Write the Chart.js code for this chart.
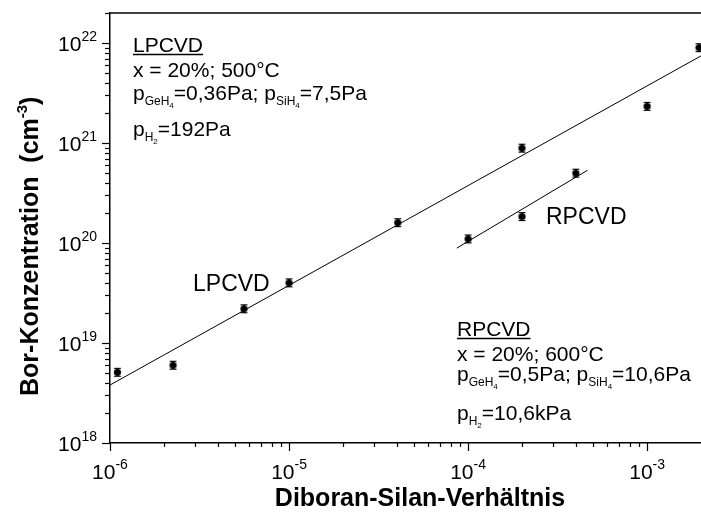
<!DOCTYPE html>
<html><head><meta charset="utf-8">
<script src="https://cdn.jsdelivr.net/npm/chart.js@4.4.1/dist/chart.umd.min.js"></script>
<style>html,body{margin:0;padding:0;background:#fff;overflow:hidden}#wrap{width:701px;height:524px;overflow:hidden}canvas{display:block}</style>
</head><body><div id="wrap"><canvas id="c" width="701" height="524"></canvas></div>
<script>
// ---- data ----
const lpX = [1.1e-6, 2.25e-6, 5.6e-6, 1.0e-5, 4.05e-5, 2.0e-4, 1.0e-3, 1.95e-3];
const lpY = [5.1e18, 6.0e18, 2.2e19, 4.0e19, 1.6e20, 8.9e20, 2.33e21, 9.0e21];
const rpX = [1.0e-4, 2.0e-4, 4.0e-4];
const rpY = [1.1e20, 1.84e20, 5.0e20];
const lpFitX = [1e-6, 2e-3];
const lpFitY = [3.8e18, 7.45e21];
const rpFitX = [8.65e-5, 4.65e-4];
const rpFitY = [8.9e19, 5.35e20];
const xDecades = [-6, -5, -4, -3];
const yDecades = [18, 19, 20, 21, 22];
const xTitle = 'Diboran-Silan-Verhältnis';
const yTitle = 'Bor-Konzentration  (cm';
const yTitleSup = '-3';

const FF = '"Liberation Sans", Arial, sans-serif';
const pts = (xs, ys) => xs.map((x, i) => ({x: x, y: ys[i]}));

// marker: filled dot with small error-bar caps
const mk = document.createElement('canvas');
mk.width = 11; mk.height = 11;
(function(){const g = mk.getContext('2d');
  g.fillStyle = '#000'; g.strokeStyle = '#000'; g.lineWidth = 1.2;
  g.beginPath(); g.arc(5.5, 5.5, 3.6, 0, Math.PI*2); g.fill();
  g.beginPath(); g.moveTo(2, 1.5); g.lineTo(9, 1.5); g.moveTo(2, 9.5); g.lineTo(9, 9.5);
  g.moveTo(5.5, 1.5); g.lineTo(5.5, 9.5); g.stroke();})();

function sub(ctx, parts, x, y) {
  let cx = x;
  for (const [t, s, dy] of parts) {
    ctx.font = s + 'px ' + FF;
    ctx.fillText(t, cx, y + dy);
    cx += ctx.measureText(t).width;
  }
  return cx;
}

const deco = {
  id: 'deco',
  afterDraw(chart) {
    const ctx = chart.ctx, a = chart.chartArea;
    const xs = chart.scales.x, ys = chart.scales.y;
    ctx.save();
    ctx.beginPath();
    ctx.strokeStyle = '#000'; ctx.fillStyle = '#000';
    ctx.lineWidth = 1.5;
    ctx.beginPath(); ctx.moveTo(a.left, a.top); ctx.lineTo(a.right, a.top); ctx.stroke();
    ctx.lineWidth = 1.2;
    for (let d = 18; d <= 22; d++) for (let m = 1; m <= 9; m++) {
      const v = m * Math.pow(10, d);
      if (v > ys.max * 1.0001) continue;
      const py = Math.round(ys.getPixelForValue(v)) + 0.5;
      const L = m === 1 ? 8 : 5;
      ctx.beginPath(); ctx.moveTo(a.left - L, py); ctx.lineTo(a.left, py); ctx.stroke();
    }
    for (let d = -6; d <= -3; d++) for (let m = 1; m <= 9; m++) {
      const v = m * Math.pow(10, d);
      if (v > xs.max * 0.999) continue;
      const px = Math.round(xs.getPixelForValue(v)) + 0.5;
      const L = m === 1 ? 8 : 4;
      ctx.beginPath(); ctx.moveTo(px, a.bottom); ctx.lineTo(px, a.bottom + L); ctx.stroke();
    }
    ctx.beginPath();
    ctx.textBaseline = 'alphabetic';
    for (const d of yDecades) {
      const py = ys.getPixelForValue(Math.pow(10, d));
      ctx.font = '14px ' + FF;
      const sw = ctx.measureText(String(d)).width;
      ctx.textAlign = 'left';
      ctx.fillText(String(d), 97 - sw, py - 2);
      ctx.font = '21px ' + FF;
      ctx.textAlign = 'right';
      ctx.fillText('10', 97 - sw, py + 8);
    }
    for (const d of xDecades) {
      const px = xs.getPixelForValue(Math.pow(10, d));
      ctx.font = '21px ' + FF;
      const w1 = ctx.measureText('10').width;
      ctx.font = '14px ' + FF;
      const w2 = ctx.measureText(String(d)).width;
      const x0 = px - (w1 + w2) / 2;
      ctx.textAlign = 'left';
      ctx.font = '21px ' + FF;
      ctx.fillText('10', x0, 479);
      ctx.font = '14px ' + FF;
      ctx.fillText(String(d), x0 + w1, 469);
    }
    ctx.textAlign = 'center';
    ctx.font = 'bold 25px ' + FF;
    ctx.fillText(xTitle, 420, 506);
    ctx.save();
    ctx.translate(38, 396);
    ctx.rotate(-Math.PI / 2);
    ctx.textAlign = 'left';
    ctx.font = 'bold 25px ' + FF;
    ctx.fillText(yTitle, 0, 0);
    let w = ctx.measureText(yTitle).width;
    ctx.font = 'bold 15px ' + FF;
    ctx.fillText(yTitleSup, w, -11);
    w += ctx.measureText(yTitleSup).width;
    ctx.font = 'bold 25px ' + FF;
    ctx.fillText(')', w, 0);
    ctx.restore();
    ctx.textAlign = 'left';
    ctx.font = '23px ' + FF;
    ctx.fillText('LPCVD', 193, 291);
    ctx.fillText('RPCVD', 546, 224);
    function block(x, b, title, l2, pGe, pSi, pH) {
      ctx.font = '21px ' + FF;
      ctx.fillText(title, x, b[0]);
      const tw = ctx.measureText(title).width;
      ctx.lineWidth = 1.5;
      ctx.beginPath(); ctx.moveTo(x, b[0] + 2.5); ctx.lineTo(x + tw, b[0] + 2.5); ctx.stroke();
      ctx.beginPath();
      ctx.font = '21px ' + FF;
      ctx.fillText(l2, x, b[1]);
      sub(ctx, [['p', 21, 0], ['GeH', 12, 5], ['4', 8, 8], [pGe + '; p', 21, 0], ['SiH', 12, 5], ['4', 8, 8], [pSi, 21, 0]], x, b[2]);
      sub(ctx, [['p', 21, 0], ['H', 12, 5], ['2', 8, 8], [pH, 21, 0]], x, b[3]);
    }
    block(133, [52, 77, 100, 136], 'LPCVD', 'x = 20%; 500°C', '=0,36Pa', '=7,5Pa', '=192Pa');
    block(457, [336, 361, 381, 420], 'RPCVD', 'x = 20%; 600°C', '=0,5Pa', '=10,6Pa', '=10,6kPa');
    ctx.beginPath();
    ctx.restore();
  }
};

new Chart(document.getElementById('c'), {
  type: 'scatter',
  data: {
    datasets: [
      {label: 'LPCVD', data: pts(lpX, lpY), pointStyle: mk, pointRadius: 5, borderColor: '#000', backgroundColor: '#000'},
      {label: 'RPCVD', data: pts(rpX, rpY), pointStyle: mk, pointRadius: 5, borderColor: '#000', backgroundColor: '#000'},
      {label: 'LPCVD fit', data: pts(lpFitX, lpFitY), showLine: true, pointRadius: 0, borderColor: '#000', borderWidth: 1},
      {label: 'RPCVD fit', data: pts(rpFitX, rpFitY), showLine: true, pointRadius: 0, borderColor: '#000', borderWidth: 1}
    ]
  },
  options: {
    responsive: false, animation: false, devicePixelRatio: 1,
    layout: {autoPadding: false, padding: {top: 13, left: 0, right: 0, bottom: 0}},
    plugins: {legend: {display: false}, tooltip: {enabled: false}},
    scales: {
      x: {type: 'logarithmic', min: 1e-6, max: 2e-3,
          grid: {display: false, drawTicks: false}, ticks: {display: false},
          border: {display: true, color: '#000', width: 1.5},
          afterFit: s => { s.height = 81; s.paddingLeft = 0; s.paddingRight = 0; }},
      y: {type: 'logarithmic', min: 1e18, max: 2e22,
          grid: {display: false, drawTicks: false}, ticks: {display: false},
          border: {display: true, color: '#000', width: 1.5},
          afterFit: s => { s.width = 110; s.paddingTop = 0; s.paddingBottom = 0; }}
    }
  },
  plugins: [deco]
});
</script></body></html>
